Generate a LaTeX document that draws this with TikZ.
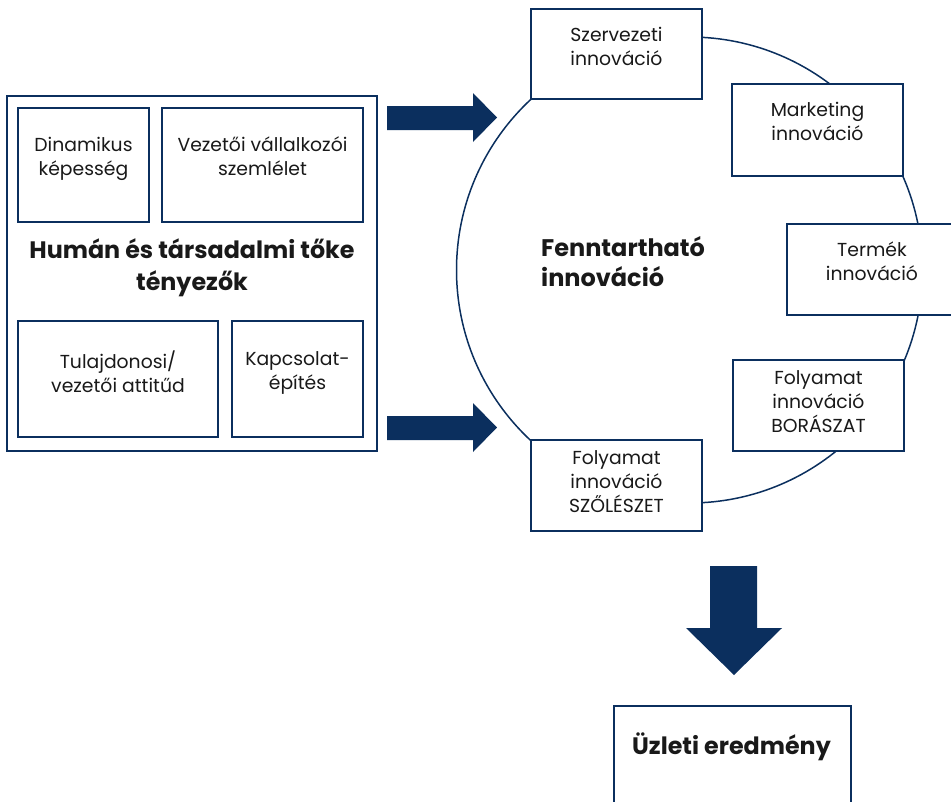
\documentclass[tikz,border=0pt]{standalone}
\usepackage{fontspec}
\setmainfont{Poppins}
\definecolor{innoblue}{HTML}{0B2F5E}

\begin{document}
\begin{tikzpicture}[x=1pt, y=-1pt,
  box/.style={draw=innoblue, line width=2pt, fill=white, inner sep=0pt},
  txt/.style={align=center, inner sep=0pt, text=black!90, font=\fontsize{18.8}{24}\selectfont},
  headtxt/.style={inner sep=0pt, text=black!90, font=\fontsize{23.8}{32}\selectfont\bfseries},
  ring/.style={circle, draw=innoblue, line width=1.5pt, inner sep=0pt}]
\useasboundingbox (0,0) rectangle (951,801);

% Human and social capital factors
\node[box, minimum width=370pt, minimum height=355pt] (human) at (192,273.5) {};
\node[box, minimum width=131pt, minimum height=114pt] (dyn) at (83.5,165) {};
\node[box, minimum width=201pt, minimum height=114pt] (lead) at (262.5,165) {};
\node[box, minimum width=200pt, minimum height=116pt] (owner) at (118,379) {};
\node[box, minimum width=131pt, minimum height=116pt] (network) at (297.5,379) {};
\node[txt, anchor=north] (dyntxt) at (83.5,137) {Dinamikus\\képesség};
\node[txt, anchor=north] (leadtxt) at (262.5,136.5) {Vezetői vállalkozói\\szemlélet};
\node[txt, anchor=north] (ownertxt) at (118,351) {Tulajdonosi/\\vezetői attitűd};
\node[txt, anchor=north] (networktxt) at (297.5,351.5) {Kapcsolat-\\építés};
\node[headtxt, align=center, anchor=north] (humantxt) at (192,238.5) {Humán és társadalmi tőke\\tényezők};

% Input arrows
\fill[innoblue] (387,106) -- (473,106) -- (473,93) -- (497,117.5) -- (473,142) -- (473,130) -- (387,130) -- cycle;
\fill[innoblue] (387,416) -- (473,416) -- (473,403) -- (497,427.5) -- (473,452) -- (473,440) -- (387,440) -- cycle;

% Sustainable innovation cycle
\node[ring, minimum size=466pt] (cycle) at (689.5,270) {};
\node[headtxt, align=left, anchor=north west, font=\fontsize{24}{30}\selectfont\bfseries] (cycletxt) at (541,236) {Fenntartható\\innováció};
\node[box, minimum width=171pt, minimum height=90pt] (org) at (616.5,54) {};
\node[box, minimum width=171pt, minimum height=92pt] (mkt) at (817.5,130) {};
\node[box, minimum width=171pt, minimum height=91pt] (prod) at (872,269.5) {};
\node[box, minimum width=171pt, minimum height=91pt] (wine) at (818.5,405.5) {};
\node[box, minimum width=171pt, minimum height=91pt] (grape) at (616.5,485.5) {};
\node[txt, anchor=north] (orgtxt) at (616.5,26.5) {Szervezeti\\innováció};
\node[txt, anchor=north] (mkttxt) at (817.5,101.5) {Marketing\\innováció};
\node[txt, anchor=north] (prodtxt) at (872,241.5) {Termék\\innováció};
\node[txt, anchor=north] (winetxt) at (818.5,370.5) {Folyamat\\innováció\\BORÁSZAT};
\node[txt, anchor=north] (grapetxt) at (616.5,450.5) {Folyamat\\innováció\\SZŐLÉSZET};

% Output
\fill[innoblue] (710,566) -- (757,566) -- (757,628) -- (782,628) -- (734,675) -- (686,628) -- (710,628) -- cycle;
\node[box, minimum width=237pt, minimum height=120pt] (result) at (732.5,766) {};
\node[headtxt, anchor=base] (resulttxt) at (731.5,754) {Üzleti eredmény};
\end{tikzpicture}
\end{document}
